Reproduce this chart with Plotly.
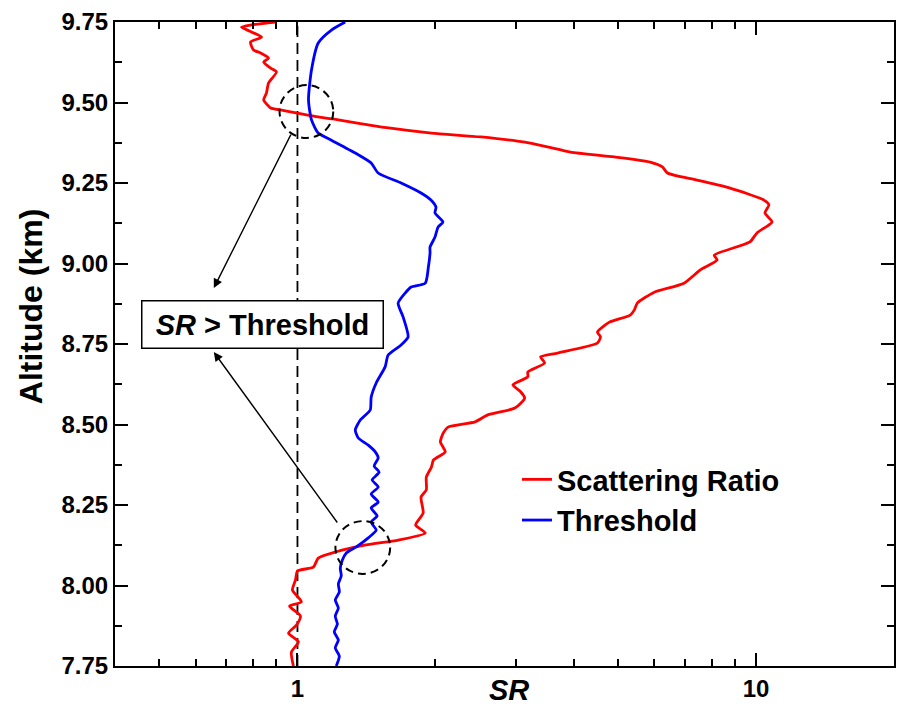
import numpy as np
import plotly.graph_objects as go

# ---------------- data ----------------
alt_red = [7.750, 7.793, 7.825, 7.852, 7.877, 7.905, 7.936, 7.949, 7.986, 8.017,
           8.045, 8.057, 8.085, 8.104, 8.126, 8.141, 8.163, 8.188, 8.225, 8.275,
           8.297, 8.337, 8.368, 8.390, 8.415, 8.446, 8.474, 8.492, 8.508, 8.530,
           8.551, 8.582, 8.601, 8.623, 8.648, 8.663, 8.691, 8.710, 8.722, 8.753,
           8.772, 8.787, 8.818, 8.840, 8.856, 8.877, 8.911, 8.939, 8.980, 9.011,
           9.026, 9.067, 9.095, 9.129, 9.157, 9.182, 9.197, 9.234, 9.259, 9.281,
           9.300, 9.315, 9.331, 9.346, 9.362, 9.377, 9.393, 9.405, 9.421, 9.449,
           9.455, 9.467, 9.477, 9.483, 9.508, 9.530, 9.561, 9.595, 9.607, 9.626,
           9.638, 9.654, 9.663, 9.688, 9.703, 9.719, 9.734, 9.741, 9.750]
sr_red = [0.98, 0.97, 1.005, 0.956, 0.995, 1.015, 0.961, 1.02, 0.975, 0.99,
          1.0, 1.083, 1.11, 1.21, 1.41, 1.66, 1.90, 1.81, 1.88, 1.86,
          1.91, 1.91, 1.96, 1.98, 2.10, 2.05, 2.08, 2.13, 2.44, 2.60,
          2.98, 3.13, 3.07, 2.95, 3.18, 3.18, 3.46, 3.39, 3.69, 4.51,
          4.58, 4.51, 4.79, 5.32, 5.43, 5.51, 6.00, 6.97, 7.56, 8.23,
          8.11, 9.70, 10.05, 10.84, 10.46, 10.67, 10.41, 8.78, 7.44, 6.41,
          6.25, 5.88, 4.91, 3.94, 3.51, 3.13, 2.51, 1.96, 1.58, 1.19,
          1.11, 1.0, 0.918, 0.874, 0.844, 0.856, 0.865, 0.90, 0.874, 0.844,
          0.865, 0.831, 0.802, 0.79, 0.835, 0.794, 0.755, 0.794, 0.896]

alt_blue = [7.750, 7.781, 7.806, 7.831, 7.856, 7.880, 7.905, 7.930, 7.955, 7.980,
            8.005, 8.030, 8.054, 8.079, 8.101, 8.120, 8.148, 8.172, 8.197, 8.216,
            8.241, 8.259, 8.284, 8.306, 8.328, 8.352, 8.371, 8.396, 8.415, 8.436,
            8.458, 8.483, 8.514, 8.545, 8.585, 8.629, 8.679, 8.716, 8.747, 8.772,
            8.834, 8.877, 8.908, 8.927, 8.939, 8.989, 9.033, 9.051, 9.082, 9.113,
            9.129, 9.157, 9.175, 9.197, 9.219, 9.250, 9.281, 9.312, 9.343, 9.383,
            9.405, 9.446, 9.508, 9.601, 9.685, 9.725, 9.750]
sr_blue = [1.215, 1.234, 1.209, 1.228, 1.203, 1.222, 1.209, 1.228, 1.209, 1.234,
           1.228, 1.246, 1.240, 1.253, 1.278, 1.344, 1.427, 1.485, 1.448, 1.492,
           1.448, 1.500, 1.448, 1.500, 1.455, 1.507, 1.470, 1.500, 1.478, 1.427,
           1.357, 1.337, 1.371, 1.441, 1.448, 1.485, 1.553, 1.577, 1.683, 1.743,
           1.700, 1.658, 1.717, 1.770, 1.900, 1.930, 1.946, 1.946, 1.995, 2.026,
           2.076, 1.995, 2.005, 1.955, 1.860, 1.683, 1.500, 1.448, 1.337, 1.186,
           1.110, 1.073, 1.057, 1.073, 1.110, 1.186, 1.271]

x_tick_vals = [1, 10]
x_tick_text = ["1", "10"]
x_minor_vals = [0.5, 0.6, 0.7, 0.8, 0.9, 2, 3, 4, 5, 6, 7, 8, 9]
y_tick_vals = [7.75, 8.00, 8.25, 8.50, 8.75, 9.00, 9.25, 9.50, 9.75]
x_range = [0.4, 20]
y_range = [7.75, 9.75]

# annotation marks (data coordinates)
circle_hi = dict(x0=0.914, x1=1.197, y0=9.39, y1=9.554)
circle_lo = dict(x0=1.21, x1=1.593, y0=8.036, y1=8.20)
arrow_hi = dict(head=(0.657, 8.924), tail=(0.971, 9.405))
arrow_lo = dict(head=(0.657, 8.725), tail=(1.228, 8.191))
box_pos = (0.841, 8.811)

FONT = "Liberation Sans, Arial, sans-serif"

lx0, lx1 = np.log10(x_range[0]), np.log10(x_range[1])


def xp(v):
    return (np.log10(v) - lx0) / (lx1 - lx0)


def yp(v):
    return (v - y_range[0]) / (y_range[1] - y_range[0])


fig = go.Figure()
fig.add_trace(go.Scatter(x=sr_red, y=alt_red, mode="lines", name="Scattering Ratio",
                         line=dict(color="#ff0000", width=2.8, shape="spline", smoothing=0.6)))
fig.add_trace(go.Scatter(x=sr_blue, y=alt_blue, mode="lines", name="Threshold",
                         line=dict(color="#0000ff", width=2.8, shape="spline", smoothing=0.6)))

shapes = [
    dict(type="line", xref="paper", yref="paper", x0=xp(1), x1=xp(1), y0=0, y1=1,
         line=dict(color="black", width=1.8, dash="11px,6px"), layer="below"),
]
for c in (circle_hi, circle_lo):
    shapes.append(dict(type="circle", xref="paper", yref="paper",
                       x0=xp(c["x0"]), x1=xp(c["x1"]), y0=yp(c["y0"]), y1=yp(c["y1"]),
                       line=dict(color="black", width=2, dash="8px,5px")))

annotations = []
for a in (arrow_hi, arrow_lo):
    annotations.append(dict(xref="x", yref="y", axref="x", ayref="y",
                            x=np.log10(a["head"][0]), y=a["head"][1],
                            ax=np.log10(a["tail"][0]), ay=a["tail"][1],
                            text="", showarrow=True, arrowhead=2, arrowsize=1.3,
                            arrowwidth=1.4, arrowcolor="black", standoff=0, startstandoff=0))
annotations.append(dict(xref="x", yref="y", x=np.log10(box_pos[0]), y=box_pos[1],
                        text="<i>SR</i> &gt; Threshold", showarrow=False,
                        font=dict(family=FONT, size=29, color="black", weight="bold"),
                        bordercolor="black", borderwidth=1.5, borderpad=0,
                        bgcolor="white", width=240, height=46))
annotations.append(dict(xref="paper", yref="paper", x=(510 - 115) / 781, y=(666 - 708) / 644,
                        text="<i>SR</i>", showarrow=False, xanchor="center", yanchor="bottom",
                        font=dict(family=FONT, size=29, color="black", weight="bold")))
annotations.append(dict(xref="paper", yref="paper", x=(31 - 115) / 781, y=(666 - 306) / 644,
                        text="Altitude (km)", showarrow=False, textangle=-90,
                        xanchor="center", yanchor="middle",
                        font=dict(family=FONT, size=32, color="black", weight="bold")))

axis_common = dict(showline=True, linecolor="black", linewidth=2, mirror="ticks",
                   ticks="inside", ticklen=13, tickwidth=2, tickcolor="black",
                   showgrid=False, zeroline=False,
                   tickfont=dict(family=FONT, size=24, color="black", weight="bold"))

fig.update_layout(
    width=897, height=708,
    margin=dict(l=115, r=1, t=22, b=42),
    paper_bgcolor="white", plot_bgcolor="white",
    font=dict(family=FONT, color="black"),
    xaxis=dict(type="log", range=[lx0, lx1], tickvals=x_tick_vals, ticktext=x_tick_text,
               minor=dict(tickvals=x_minor_vals, ticks="inside", ticklen=7, tickwidth=2,
                          tickcolor="black", showgrid=False),
               **axis_common),
    yaxis=dict(range=y_range, tickvals=y_tick_vals, tickformat=".2f",
               minor=dict(dtick=0.125, tick0=7.75, ticks="inside", ticklen=7, tickwidth=2,
                          tickcolor="black", showgrid=False),
               **axis_common),
    legend=dict(x=(518 - 115) / 781, y=(666 - 454) / 644, xanchor="left", yanchor="top",
                bgcolor="rgba(0,0,0,0)", borderwidth=0,
                font=dict(family=FONT, size=29, color="black", weight="bold")),
    shapes=shapes,
    annotations=annotations,
    showlegend=True,
)

fig.write_html("out.html")
